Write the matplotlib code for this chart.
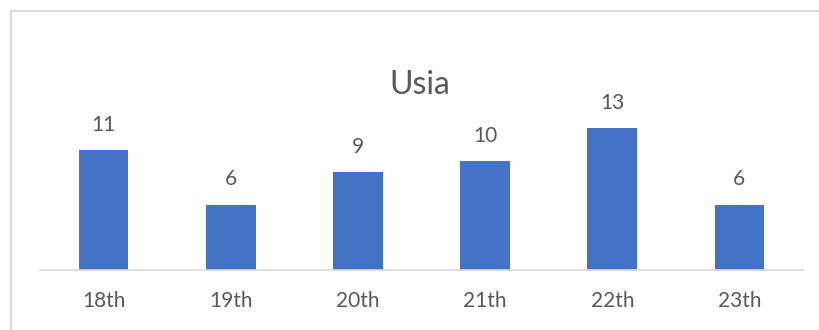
import matplotlib.pyplot as plt
from matplotlib.patches import Rectangle

# chart data
categories = ['18th', '19th', '20th', '21th', '22th', '23th']
counts = [11, 6, 9, 10, 13, 6]
title = 'Usia'

bar_color = '#4472C4'
text_color = '#595959'

plt.rcParams['font.family'] = ['Lato', 'DejaVu Sans']

W, H = 819, 330
fig = plt.figure(figsize=(W / 100, H / 100), dpi=100)

# light gray chart border (runs off the right and bottom edges)
fig.patches.append(Rectangle((11 / W, -0.1), 1.2, (H - 11) / H + 0.1,
                             transform=fig.transFigure, fill=False,
                             edgecolor='#D9D9D9', linewidth=1.5))

# plot area: baseline at y=270px, 10.9 px per unit
ymax = 14
base_px = 270
top_px = base_px - ymax * 10.9
ax = fig.add_axes([40 / W, (H - base_px) / H, (803 - 40) / W, (base_px - top_px) / H])

x = range(len(categories))
ax.bar(x, counts, width=0.39, color=bar_color, zorder=2)
ax.set_xlim(-0.5, len(categories) - 0.5)
ax.set_ylim(0, ymax)

for xi, v in zip(x, counts):
    ax.annotate(str(v), (xi, v), xytext=(0, 11), textcoords='offset points',
                ha='center', va='bottom', fontsize=15, color=text_color)

ax.set_xticks(list(x))
ax.set_xticklabels(categories, fontsize=15, color=text_color)
ax.tick_params(axis='x', length=0, pad=15)
ax.set_yticks([])
for side in ['top', 'right', 'left']:
    ax.spines[side].set_visible(False)
ax.spines['bottom'].set_color('#D9D9D9')
ax.spines['bottom'].set_linewidth(1.2)
ax.patch.set_alpha(0)

fig.text(420 / W, 1 - 85 / H, title, ha='center', va='center',
         fontsize=23, color=text_color)

fig.savefig('out.png', dpi=100)
